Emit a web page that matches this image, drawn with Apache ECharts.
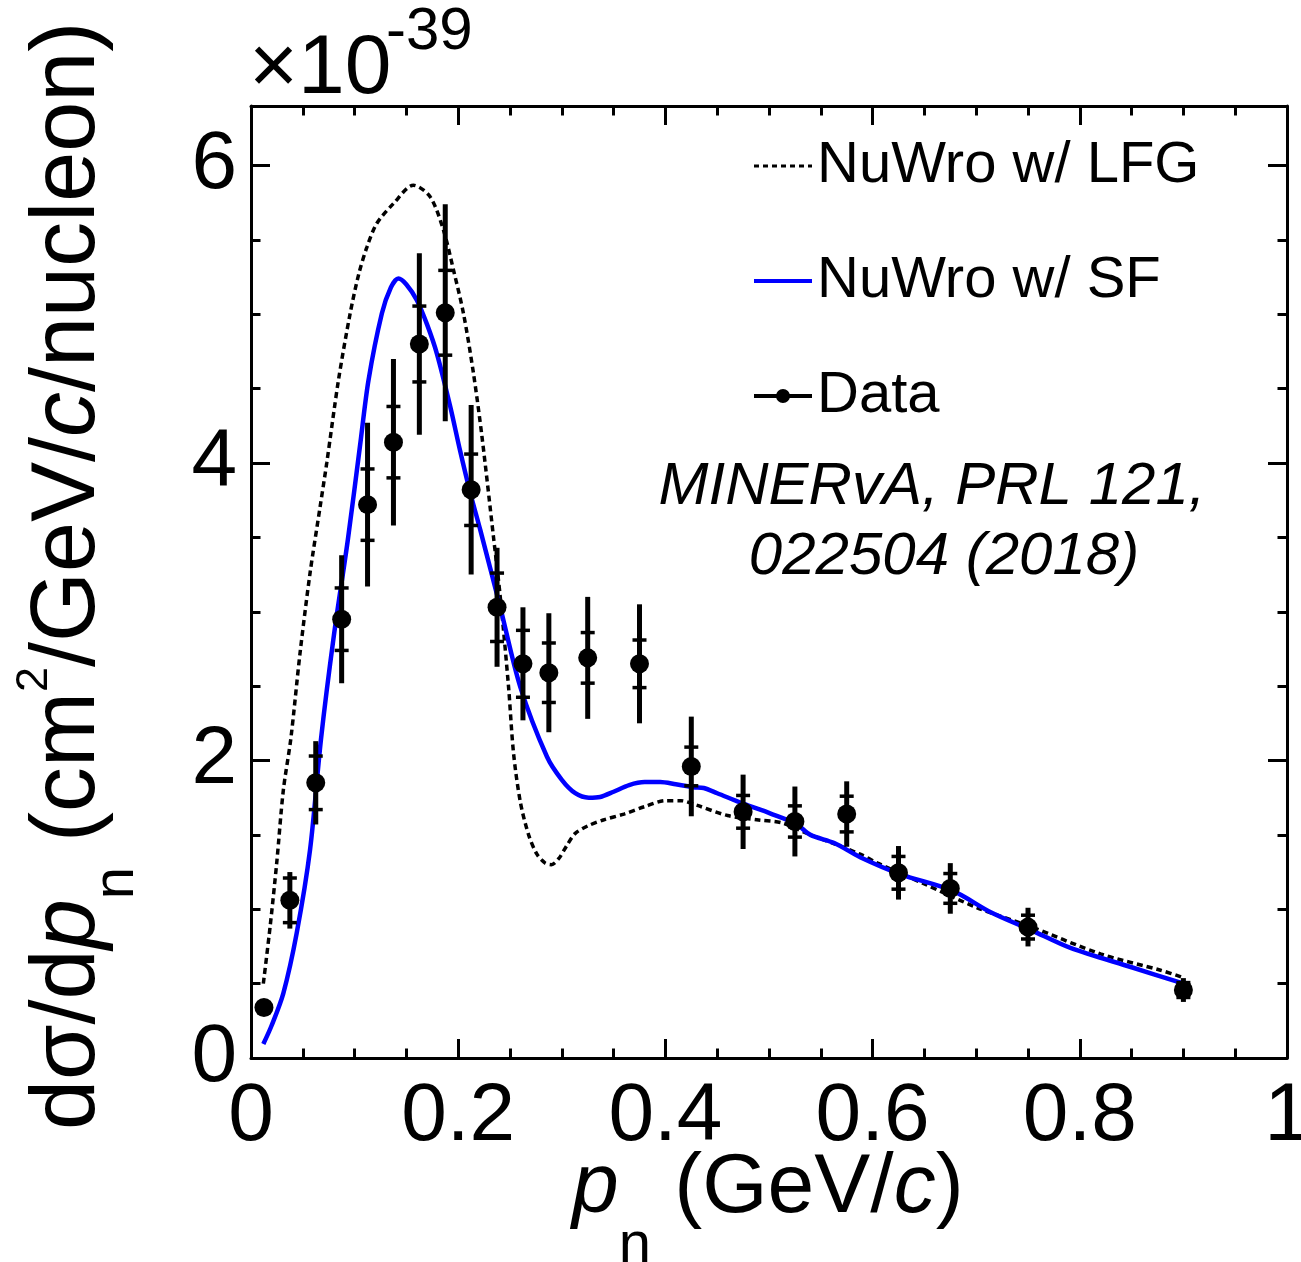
<!DOCTYPE html>
<html>
<head>
<meta charset="utf-8">
<script src="https://cdn.jsdelivr.net/npm/echarts@6/dist/echarts.min.js"></script>
<style>
html,body{margin:0;padding:0;background:#fff;}
#chart{width:1301px;height:1262px;}
</style>
</head>
<body>
<div id="chart"></div>
<script>
// ---- Data ----
var dataX = [0.0125,0.0375,0.0625,0.0875,0.1125,0.1375,0.1625,0.1875,0.2125,0.2375,0.2625,0.2875,0.325,0.375,0.425,0.475,0.525,0.575,0.625,0.675,0.75,0.9];
var dataY = [0.34,1.06,1.85,2.95,3.72,4.14,4.80,5.01,3.82,3.03,2.65,2.59,2.69,2.65,1.96,1.655,1.59,1.64,1.245,1.14,0.88,0.457];
var totErr = [0.04,0.19,0.28,0.43,0.55,0.56,0.61,0.73,0.57,0.40,0.38,0.40,0.41,0.40,0.335,0.25,0.235,0.22,0.18,0.17,0.13,0.08];
var statErr = [0.03,0.15,0.18,0.21,0.24,0.24,0.255,0.285,0.24,0.23,0.225,0.20,0.17,0.16,0.13,0.11,0.105,0.12,0.11,0.10,0.08,0.05];

var sfX = [0.0119,0.02,0.0312,0.0441,0.057,0.0675,0.08,0.0934,0.1053,0.1134,0.1263,0.135,0.1423,0.150,0.1601,0.170,0.1794,0.1923,0.2019,0.2116,0.2213,0.2406,0.2599,0.2857,0.30,0.313,0.326,0.337,0.35,0.365,0.38,0.395,0.41,0.427,0.437,0.45,0.475,0.501,0.526,0.54,0.563,0.588,0.627,0.677,0.714,0.753,0.791,0.85,0.898];
var sfY = [0.094,0.22,0.435,0.84,1.40,2.14,2.84,3.48,4.12,4.556,5.005,5.18,5.24,5.20,5.094,4.93,4.736,4.38,4.08,3.80,3.55,3.03,2.495,2.025,1.87,1.78,1.75,1.755,1.79,1.835,1.855,1.855,1.84,1.82,1.815,1.78,1.71,1.645,1.575,1.50,1.445,1.35,1.235,1.125,0.98,0.86,0.74,0.61,0.505];

var lfgX = [0.0119,0.0184,0.0248,0.0312,0.0385,0.0473,0.057,0.0667,0.0731,0.0844,0.0957,0.104,0.1118,0.1214,0.1375,0.1568,0.1729,0.1858,0.1955,0.2051,0.2148,0.2229,0.2341,0.2406,0.2486,0.2534,0.26,0.268,0.276,0.284,0.29,0.297,0.305,0.313,0.325,0.34,0.36,0.38,0.40,0.415,0.43,0.46,0.49,0.513,0.54,0.563,0.588,0.605,0.65,0.701,0.75,0.82,0.878,0.9];
var lfgY = [0.50,0.88,1.31,1.80,2.15,2.72,3.26,3.705,4.0,4.556,5.005,5.27,5.45,5.61,5.744,5.867,5.79,5.565,5.296,5.005,4.6,4.18,3.50,3.10,2.495,2.05,1.72,1.50,1.37,1.31,1.30,1.34,1.43,1.51,1.56,1.60,1.64,1.69,1.73,1.73,1.70,1.63,1.60,1.58,1.50,1.44,1.37,1.31,1.17,1.01,0.89,0.70,0.59,0.54];

var xTicks = {min:0, max:1, interval:0.2};
var yTicks = {min:0, max:6.4, interval:2, minorInterval:0.5};

var legendNames = ['NuWro w/ LFG','NuWro w/ SF','Data'];
var noteLines = ['MINERvA, PRL 121,','022504 (2018)'];

// ---- Build ----
var FONT = '"Liberation Sans", Arial, Helvetica, sans-serif';
function zip(a,b){ return a.map(function(v,i){ return [v,b[i]]; }); }
var errData = dataX.map(function(x,i){ return [x, dataY[i], totErr[i], statErr[i]]; });

// text pieces laid out along a baseline (for titles with sub/superscripts)
var mctx = document.createElement('canvas').getContext('2d');
function fontStr(p){ return (p.italic ? 'italic ' : '') + p.size + 'px ' + FONT; }
function buildTitle(pieces, x0, y0, rotation){
  var u = 0, children = [];
  pieces.forEach(function(p){
    var f = fontStr(p);
    mctx.font = f;
    var w = mctx.measureText(p.t).width;
    children.push({type:'text', x:u, y:(p.base || 0) - 0.3465 * p.size,
      style:{text:p.t, font:f, fill:'#000', textAlign:'left', textVerticalAlign:'middle'}});
    u += w;
  });
  return {type:'group', x:x0, y:y0, rotation:rotation, children:children};
}

var xTitle = buildTitle([
  {t:'p', size:84, italic:true},
  {t:'n', size:58, base:48},
  {t:' (GeV/', size:84},
  {t:'c', size:84, italic:true},
  {t:')', size:84}
], 572, 1218, 0);

var yTitle = buildTitle([
  {t:'d\u03c3/d', size:90},
  {t:'p', size:90, italic:true},
  {t:'n', size:58, base:37},
  {t:' (cm', size:90},
  {t:'2', size:45, base:-50},
  {t:'/GeV/', size:90},
  {t:'c', size:90, italic:true},
  {t:'/nucleon)', size:90}
], 100, 1130, Math.PI / 2);

var chart = echarts.init(document.getElementById('chart'), null, {renderer:'canvas'});

var tickStyle = {color:'#000', width:3};
function yAxisDef(pos, interval, len, labels, line){
  return {
    type:'value', position:pos, min:yTicks.min, max:yTicks.max, interval:interval,
    axisLine:{show:line, onZero:false, lineStyle:{color:'#000', width:3}},
    axisTick:{show:true, inside:true, length:len, lineStyle:tickStyle},
    axisLabel:{show:labels, fontSize:82, fontFamily:FONT, color:'#000', margin:14, showMaxLabel:false},
    splitLine:{show:false}
  };
}
function xAxisDef(pos, labels){
  return {
    type:'value', position:pos, min:xTicks.min, max:xTicks.max, interval:xTicks.interval,
    axisLine:{show:true, onZero:false, lineStyle:{color:'#000', width:3}},
    axisTick:{show:true, inside:true, length:19, lineStyle:tickStyle},
    minorTick:{show:true, splitNumber:4, length:9.5, lineStyle:tickStyle},
    axisLabel:{show:labels, fontSize:82, fontFamily:FONT, color:'#000', margin:18},
    splitLine:{show:false}
  };
}

var option = {
  backgroundColor:'#fff',
  animation:false,
  grid:{left:251, right:14, top:106, bottom:204, containLabel:false, outerBoundsMode:'none'},
  xAxis:[ xAxisDef('bottom', true), xAxisDef('top', false) ],
  yAxis:[
    yAxisDef('left', yTicks.interval, 19, true, true),
    yAxisDef('left', yTicks.minorInterval, 9.5, false, false),
    yAxisDef('right', yTicks.interval, 19, false, true),
    yAxisDef('right', yTicks.minorInterval, 9.5, false, false)
  ],
  legend:{
    orient:'vertical', left:752, top:137, padding:0,
    itemWidth:58, itemHeight:20, itemGap:57,
    selectedMode:false,
    textStyle:{fontSize:58, fontFamily:FONT, color:'#000', lineHeight:58},
    data:[
      {name:legendNames[0], itemStyle:{opacity:0}, lineStyle:{width:3, color:'#000', type:[5,4]}},
      {name:legendNames[1], itemStyle:{opacity:0}, lineStyle:{width:4, color:'#0000ff'}},
      {name:legendNames[2], icon:'path://M0,8 H58 V12 H0 Z M22,10 A7,7 0 1,1 36,10 A7,7 0 1,1 22,10 Z', itemStyle:{color:'#000', opacity:1}}
    ]
  },
  graphic:[
    xTitle,
    yTitle,
    {type:'text', left:249, top:28, style:{text:'\u00d710', font:'84px ' + FONT, fill:'#000'}},
    {type:'text', left:386, top:2, style:{text:'-39', font:'60px ' + FONT, fill:'#000'}},
    {type:'text', x:932, y:487, style:{text:noteLines[0], font:'italic 60px ' + FONT, fill:'#000', textAlign:'center', textVerticalAlign:'middle'}},
    {type:'text', x:944, y:557, style:{text:noteLines[1], font:'italic 60px ' + FONT, fill:'#000', textAlign:'center', textVerticalAlign:'middle'}}
  ],
  series:[
    {
      name:legendNames[0], type:'line', data:zip(lfgX,lfgY), symbol:'none', smooth:0.3, z:2,
      lineStyle:{color:'#000', width:3.5, type:[6,4]}, itemStyle:{color:'#000'}
    },
    {
      name:legendNames[1], type:'line', data:zip(sfX,sfY), symbol:'none', smooth:0.3, z:3,
      lineStyle:{color:'#0000ff', width:4.5}, itemStyle:{color:'#0000ff'}
    },
    {
      name:'Data errors', type:'custom', data:errData, z:4, encode:{x:0, y:1},
      renderItem:function(params, api){
        var x = api.value(0), y = api.value(1), te = api.value(2), se = api.value(3);
        var top = api.coord([x, y+te]), bot = api.coord([x, y-te]);
        var st = api.coord([x, y+se]), sb = api.coord([x, y-se]);
        var hw = 7;
        return {type:'group', children:[
          {type:'line', shape:{x1:top[0], y1:top[1], x2:bot[0], y2:bot[1]}, style:{stroke:'#000', lineWidth:5}},
          {type:'line', shape:{x1:st[0]-hw, y1:st[1], x2:st[0]+hw, y2:st[1]}, style:{stroke:'#000', lineWidth:3.5}},
          {type:'line', shape:{x1:sb[0]-hw, y1:sb[1], x2:sb[0]+hw, y2:sb[1]}, style:{stroke:'#000', lineWidth:3.5}}
        ]};
      }
    },
    {
      name:legendNames[2], type:'scatter', data:zip(dataX,dataY), symbol:'circle', symbolSize:19, z:5,
      itemStyle:{color:'#000', opacity:1}
    }
  ]
};
chart.setOption(option);
</script>
</body>
</html>
